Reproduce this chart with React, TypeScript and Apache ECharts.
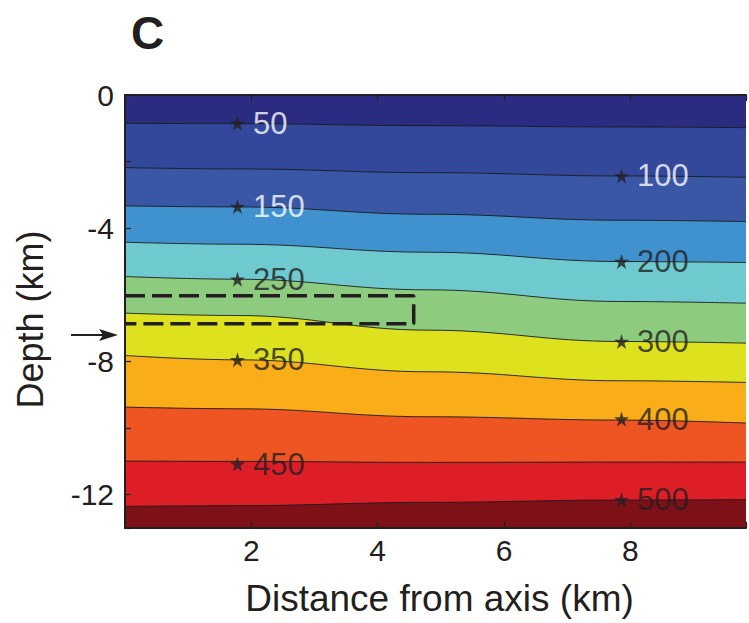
import React, { useEffect, useRef } from "react";
import * as echarts from "echarts";

// x positions (km from axis) where the isotherm depths were read
const xSamples = [0, 1.78, 4.8, 7.84, 9.83];
// isotherm temperatures (°C)
const isotherms = [50, 100, 150, 200, 250, 300, 350, 400, 450, 500];
// depth (km, positive down) of each isotherm at xSamples
const depth50 = [0.85, 0.86, 0.92, 0.96, 0.98];
const depth100 = [2.18, 2.22, 2.33, 2.43, 2.47];
const depth150 = [3.33, 3.36, 3.58, 3.76, 3.8];
const depth200 = [4.42, 4.48, 4.72, 5.0, 5.03];
const depth250 = [5.45, 5.53, 5.85, 6.2, 6.25];
const depth300 = [6.55, 6.62, 7.06, 7.4, 7.45];
const depth350 = [7.82, 7.95, 8.31, 8.58, 8.63];
const depth400 = [9.37, 9.42, 9.66, 9.76, 9.85];
const depth450 = [10.99, 11.0, 11.03, 11.02, 11.02];
const depth500 = [12.35, 12.33, 12.23, 12.16, 12.15];
const isothermDepths = [
  depth50, depth100, depth150, depth200, depth250,
  depth300, depth350, depth400, depth450, depth500,
];
// colour of the band lying just above each isotherm
const bandColors = [
  "#292C80", "#33479B", "#3A57A5", "#4092CF", "#6ECACE",
  "#8DCB7F", "#DDE11E", "#F9AD19", "#EF5423", "#DE1E27",
];
const deepColor = "#7E1118";

// star markers with labels
const starX = [1.78, 7.86, 1.78, 7.86, 1.78, 7.86, 1.78, 7.86, 1.78, 7.86];
const starDepth = [0.85, 2.43, 3.35, 5.0, 5.53, 7.4, 7.95, 9.73, 11.08, 12.15];
const starLabelColors = [
  "#ffffff", "#ffffff", "#ffffff", "#231F20", "#231F20",
  "#231F20", "#231F20", "#231F20", "#231F20", "#231F20",
];

// dashed box
const boxX = [0, 4.57, 4.57, 0];
const boxDepth = [6.03, 6.03, 6.87, 6.87];

const FONT = "'Liberation Sans', Arial, Helvetica, sans-serif";
const INK = "#231F20";
const STAR =
  "path://M50,0 L61.2,34.5 L97.6,34.5 L68.2,55.9 L79.4,90.5 L50,69.1 L20.6,90.5 L31.8,55.9 L2.4,34.5 L38.8,34.5 Z";

export default function App() {
  const ref = useRef<HTMLDivElement>(null);

  useEffect(() => {
    if (!ref.current) return;
    const chart = echarts.init(ref.current, undefined, { renderer: "svg" });

    const bandSeries: any[] = [];
    for (let i = isotherms.length - 1; i >= 0; i--) {
      bandSeries.push({
        type: "line",
        name: String(isotherms[i]),
        data: xSamples.map((x, j) => [x, isothermDepths[i][j]]),
        smooth: 0.4,
        smoothMonotone: "x",
        symbol: "none",
        lineStyle: { color: "#1b1b1b", width: 0.9 },
        areaStyle: { color: bandColors[i], opacity: 1, origin: "start" },
        z: 2,
        silent: true,
      });
    }

    const axisCommon = {
      axisLine: { show: true, onZero: false, lineStyle: { color: INK, width: 2 } },
      axisTick: { show: true, inside: true, length: 6, lineStyle: { color: INK, width: 1.2 } },
      splitLine: { show: false },
      z: 10,
    };

    chart.setOption({
      animation: false,
      textStyle: { fontFamily: FONT },
      grid: {
        left: 125,
        top: 95,
        right: 0,
        bottom: 95,
        show: true,
        backgroundColor: deepColor,
        borderWidth: 0,
      },
      xAxis: [
        {
          type: "value",
          position: "bottom",
          min: 0,
          max: 9.83,
          interval: 2,
          ...axisCommon,
          axisLabel: {
            fontSize: 30,
            color: INK,
            margin: 7,
            fontFamily: FONT,
            formatter: (v: number) => (v > 0 && v % 2 === 0 ? String(v) : ""),
          },
          name: "Distance from axis (km)",
          nameLocation: "middle",
          nameGap: 52,
          nameTextStyle: { fontSize: 37, color: INK, fontFamily: FONT, padding: [0, 0, 0, 8] },
        },
        {
          type: "value",
          position: "top",
          min: 0,
          max: 9.83,
          interval: 2,
          ...axisCommon,
          axisLabel: { show: false },
        },
      ],
      yAxis: {
        type: "value",
        inverse: true,
        min: 0,
        max: 13,
        interval: 2,
        ...axisCommon,
        axisLabel: {
          fontSize: 30,
          color: INK,
          margin: 11,
          fontFamily: FONT,
          formatter: (v: number) => (v % 4 === 0 ? (v === 0 ? "0" : "-" + v) : ""),
        },
        name: "Depth (km)",
        nameLocation: "middle",
        nameGap: 77,
        nameTextStyle: { fontSize: 36, color: INK, fontFamily: FONT, padding: [0, 16, 0, 0] },
      },
      series: [
        ...bandSeries,
        {
          type: "line",
          name: "box",
          data: boxX.map((x, j) => [x, boxDepth[j]]),
          symbol: "none",
          lineStyle: { color: INK, width: 3.5, type: [20, 7] },
          z: 5,
          silent: true,
        },
        {
          type: "scatter",
          name: "labels",
          symbol: STAR,
          symbolSize: 15,
          itemStyle: { color: INK },
          z: 6,
          data: starX.map((x, j) => ({
            value: [x, starDepth[j]],
            label: {
              show: true,
              position: "right",
              distance: 8,
              formatter: String(isotherms[j]),
              color: starLabelColors[j],
              fontSize: 31,
              fontFamily: FONT,
            },
          })),
        },
      ],
      graphic: [
        {
          type: "text",
          left: 131,
          top: 10,
          style: { text: "C", font: `bold 46px ${FONT}`, fill: INK },
        },
        {
          type: "line",
          shape: { x1: 71, y1: 335, x2: 106, y2: 335 },
          style: { stroke: INK, lineWidth: 2 },
        },
        {
          type: "polygon",
          shape: { points: [[99, 329], [118, 335], [99, 341], [103, 335]] },
          style: { fill: INK },
        },
      ],
    });

    return () => chart.dispose();
  }, []);

  return (
    <div
      ref={ref}
      style={{ position: "absolute", left: 0, top: 0, width: 749, height: 623 }}
    />
  );
}
